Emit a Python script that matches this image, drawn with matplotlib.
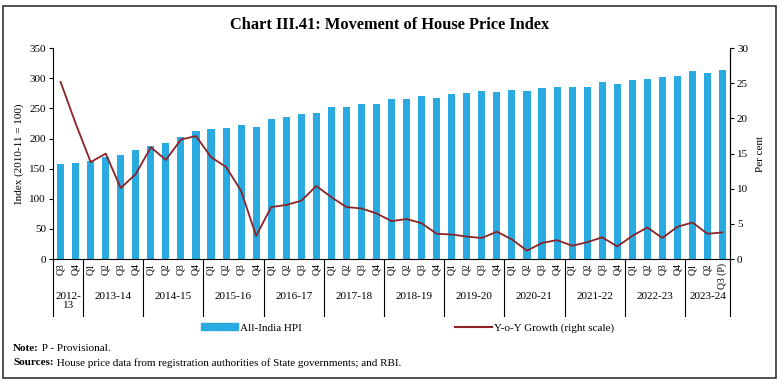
import matplotlib
matplotlib.use("Agg")
import matplotlib.pyplot as plt
from matplotlib.patches import Rectangle
from matplotlib.lines import Line2D

plt.rcParams['font.family'] = ['Liberation Serif', 'DejaVu Serif']

years = ['2012-\n13', '2013-14', '2014-15', '2015-16', '2016-17', '2017-18',
         '2018-19', '2019-20', '2020-21', '2021-22', '2022-23', '2023-24']
year_quarters = [['Q3', 'Q4']] + [['Q1', 'Q2', 'Q3', 'Q4']] * 10 + [['Q1', 'Q2', 'Q3 (P)']]

hpi = [157, 160, 162, 169, 173, 181, 188, 193, 202, 212, 216, 218, 222, 219,
       232, 235, 240, 243, 252, 253, 258, 258, 265, 266, 271, 267, 274, 275,
       279, 278, 281, 279, 284, 285, 286, 285, 294, 291, 297, 298, 302, 303,
       312, 308, 314]
yoy = [25.2, 19.3, 13.8, 15.0, 10.1, 12.1, 15.9, 14.1, 17.0, 17.5, 14.5, 13.1,
       9.7, 3.3, 7.4, 7.7, 8.3, 10.4, 8.8, 7.4, 7.2, 6.5, 5.4, 5.7, 5.1, 3.6,
       3.5, 3.2, 3.0, 3.9, 2.8, 1.2, 2.3, 2.7, 1.9, 2.4, 3.1, 1.8, 3.3, 4.5,
       3.0, 4.6, 5.2, 3.6, 3.8]

quarters = [q for grp in year_quarters for q in grp]
x = list(range(len(quarters)))

bar_color = '#29abe2'
line_color = '#8b2326'

fig = plt.figure(figsize=(7.8, 3.85), dpi=100)
ax = fig.add_axes([0.068, 0.327, 0.868, 0.548])
ax2 = ax.twinx()

ax.bar(x, hpi, width=0.47, color=bar_color, zorder=2)
ax2.plot(x, yoy, color=line_color, lw=1.3)

ax.set_xlim(-0.5, len(x) - 0.5)
ax.set_ylim(0, 350)
ax.set_yticks(range(0, 351, 50))
ax2.set_ylim(0, 30)
ax2.set_yticks(range(0, 31, 5))

for a in (ax, ax2):
    a.spines['top'].set_visible(False)
    a.tick_params(axis='y', labelsize=8, length=3, width=0.8, pad=2)
ax.spines['left'].set_linewidth(0.8)
ax2.spines['right'].set_linewidth(0.8)
ax.spines['bottom'].set_linewidth(0.8)
ax2.spines['bottom'].set_visible(False)
ax2.spines['left'].set_visible(False)

ax.set_xticks(x)
ax.set_xticklabels(quarters, rotation=90, fontsize=7, va='top')
ax.tick_params(axis='x', length=0, pad=3)

ax.set_ylabel('Index (2010-11 = 100)', fontsize=8, labelpad=4)
ax2.set_ylabel('Per cent', fontsize=8, labelpad=6)

# year groups with separators
trans = ax.get_xaxis_transform()
start = -0.5
bounds = [start]
for yr, grp in zip(years, year_quarters):
    end = start + len(grp)
    mid = (start + end) / 2
    ax.text(mid, -0.155, yr, transform=trans, ha='center', va='top',
            fontsize=8, linespacing=1.0)
    bounds.append(end)
    start = end
for b in bounds:
    ax.plot([b, b], [0, -0.27], transform=trans, color='black', lw=0.8,
            clip_on=False)

# legends
h1 = Rectangle((0, 0), 1, 1, color=bar_color)
h2 = Line2D([], [], color=line_color, lw=1.5)
fig.legend([h1], ['All-India HPI'], loc='center left',
           bbox_to_anchor=(0.245, 0.148), frameon=False, fontsize=8,
           handlelength=3.3, handleheight=0.6, handletextpad=0.2)
fig.legend([h2], ['Y-o-Y Growth (right scale)'], loc='center left',
           bbox_to_anchor=(0.571, 0.148), frameon=False, fontsize=8,
           handlelength=3.3, handletextpad=0.2)

# title
fig.text(0.5, 0.935, 'Chart III.41: Movement of House Price Index',
         ha='center', va='center', fontsize=11.8, fontweight='bold')

# notes
renderer = fig.canvas.get_renderer()
for ypos, bold, rest in [(0.096, 'Note:', ' P - Provisional.'),
                         (0.058, 'Sources:', ' House price data from registration '
                          'authorities of State governments; and RBI.')]:
    t = fig.text(0.017, ypos, bold, fontsize=8, fontweight='bold', va='center')
    bb = t.get_window_extent(renderer)
    fig.text(bb.x1 / fig.bbox.width, ypos, rest, fontsize=8, va='center')

# outer frame
fig.add_artist(Rectangle((0.004, 0.018), 0.991, 0.966, transform=fig.transFigure,
                         fill=False, edgecolor='#333333', lw=1.2))

fig.savefig('out.png', dpi=100)
